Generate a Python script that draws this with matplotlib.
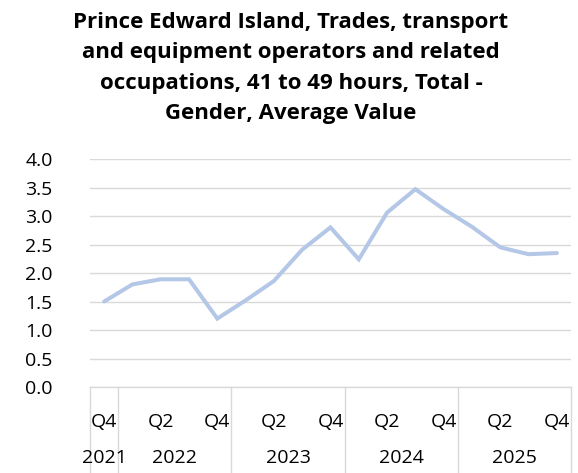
import matplotlib
matplotlib.use("Agg")
from matplotlib import pyplot as plt
from matplotlib import transforms

quarters = ["Q4", "Q1", "Q2", "Q3", "Q4", "Q1", "Q2", "Q3", "Q4",
            "Q1", "Q2", "Q3", "Q4", "Q1", "Q2", "Q3", "Q4"]
values = [1.50, 1.80, 1.89, 1.89, 1.20, 1.52, 1.86, 2.41, 2.80,
          2.24, 3.06, 3.47, 3.12, 2.81, 2.45, 2.33, 2.35]
years = ["2021", "2022", "2023", "2024", "2025"]
year_spans = [(0, 0), (1, 4), (5, 8), (9, 12), (13, 16)]
y_ticks = [0.0, 0.5, 1.0, 1.5, 2.0, 2.5, 3.0, 3.5, 4.0]

title = ("Prince Edward Island, Trades, transport\n"
         "and equipment operators and related\n"
         "occupations, 41 to 49 hours, Total -\n"
         "Gender, Average Value")

plt.rcParams['font.family'] = ['Open Sans', 'DejaVu Sans']

W, H = 578, 473
fig = plt.figure(figsize=(W / 100, H / 100), dpi=100)
ax = fig.add_axes([90 / W, 1 - 387 / H, (571 - 90) / W, (387 - 159) / H])

x = list(range(len(values)))
ax.plot(x, values, color='#B4C7E7', linewidth=2.9, solid_capstyle='round',
        solid_joinstyle='miter')

ax.set_xlim(-0.5, len(values) - 0.5)
ax.set_ylim(0, 4.0)
ax.set_yticks(y_ticks)
ax.set_yticklabels([f"{v:.1f}" for v in y_ticks], fontsize=14, color='#000000')
ax.yaxis.grid(True, color='#D9D9D9', linewidth=1.0)
ax.set_axisbelow(True)
ax.tick_params(axis='y', length=0, pad=27)
for lab in ax.get_yticklabels():
    lab.set_horizontalalignment('right')

even = [i for i in x if i % 2 == 0]
ax.set_xticks(even)
ax.set_xticklabels([quarters[i] for i in even], fontsize=14)
ax.tick_params(axis='x', length=0, pad=19)

for s in ['top', 'right', 'left']:
    ax.spines[s].set_visible(False)
ax.spines['bottom'].set_color('#D9D9D9')
ax.spines['bottom'].set_linewidth(1.0)

trans = transforms.blended_transform_factory(ax.transData, ax.transAxes)
bounds = [year_spans[0][0] - 0.5] + [b + 0.5 for a, b in year_spans]
for b in bounds:
    ax.plot([b, b], [0, -0.38], transform=trans, color='#D9D9D9',
            linewidth=1.0, clip_on=False)
for yr, (a, b) in zip(years, year_spans):
    ax.text((a + b) / 2, -0.31, yr, transform=trans, ha='center', va='center',
            fontsize=14)

fig.text(291 / W, 1 - 68 / H, title, ha='center', va='center', fontsize=16,
         fontweight='bold', linespacing=1.58)

fig.savefig('out.png', dpi=100)
